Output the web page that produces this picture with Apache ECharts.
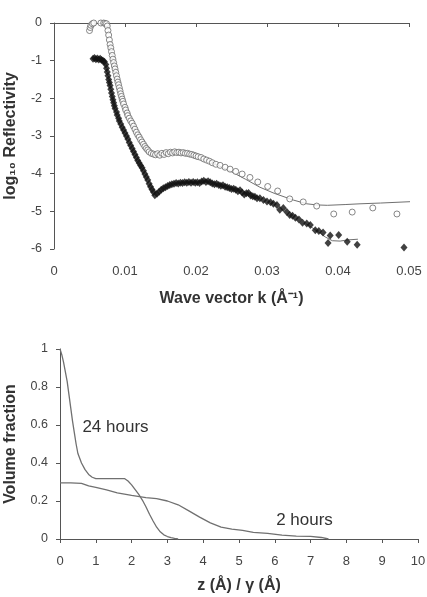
<!DOCTYPE html>
<html>
<head>
<meta charset="utf-8">
<script src="https://cdn.jsdelivr.net/npm/echarts@6/dist/echarts.min.js"></script>
<style>
  html, body { margin: 0; padding: 0; background: #fff; }
</style>
</head>
<body>
<div id="chart" style="width: 427px; height: 597px"></div>
<script>
// 反射率数据 (上图): [k, log10 R]
const circleData = [
  [0.0050,-0.20],[0.0051,-0.12],[0.0052,-0.06],[0.0054,-0.02],[0.0056,0.00],[0.0058,0.01],[0.0060,0.02],
  [0.0062,0.01],[0.0064,0.02],[0.0066,0.00],[0.0068,0.01],[0.0070,0.00],[0.0072,-0.01],[0.0074,-0.02],
  [0.0075,-0.08],[0.0076,-0.20],[0.0077,-0.32],[0.0078,-0.45],[0.0079,-0.57],[0.0080,-0.66],[0.0081,-0.76],
  [0.0082,-0.86],[0.0083,-0.96],[0.0084,-1.05],[0.0085,-1.14],[0.0086,-1.22],[0.0087,-1.31],[0.0088,-1.40],
  [0.0089,-1.49],[0.0090,-1.57],[0.0091,-1.64],[0.0092,-1.72],[0.0093,-1.80],[0.0094,-1.88],[0.0095,-1.95],
  [0.0096,-2.02],[0.0097,-2.08],[0.0098,-2.15],[0.0100,-2.24],[0.0101,-2.31],[0.0103,-2.39],[0.0104,-2.46],
  [0.0106,-2.53],[0.0108,-2.60],[0.0110,-2.66],[0.0112,-2.74],[0.0114,-2.82],[0.0116,-2.90],[0.0118,-2.97],
  [0.0120,-3.03],[0.0122,-3.10],[0.0124,-3.16],[0.0126,-3.22],[0.0128,-3.28],[0.0130,-3.33],[0.0132,-3.37],
  [0.0134,-3.42],[0.0137,-3.46],[0.0140,-3.48],[0.0143,-3.50],[0.0146,-3.47],[0.0149,-3.51],[0.0152,-3.46],
  [0.0155,-3.49],[0.0158,-3.44],[0.0161,-3.47],[0.0164,-3.43],[0.0167,-3.45],[0.0170,-3.42],[0.0173,-3.44],
  [0.0176,-3.43],[0.0179,-3.45],[0.0182,-3.44],[0.0185,-3.46],[0.0188,-3.46],[0.0191,-3.48],[0.0194,-3.49],
  [0.0197,-3.51],[0.0200,-3.53],[0.0203,-3.55],[0.0207,-3.57],[0.0211,-3.61],[0.0215,-3.64],[0.0219,-3.67],
  [0.0223,-3.71],[0.0228,-3.75],[0.0234,-3.78],[0.0241,-3.83],[0.0248,-3.88],[0.0256,-3.94],[0.0265,-4.01],
  [0.0276,-4.10],[0.0287,-4.22],[0.0301,-4.34],[0.0315,-4.46],[0.0332,-4.67],[0.0351,-4.75],[0.0370,-4.86],
  [0.0394,-5.07],[0.0420,-5.02],[0.0449,-4.91],[0.0483,-5.07]
];
const circleFit = [
  [0.0220,-3.68],[0.0250,-3.95],[0.0270,-4.15],[0.0290,-4.36],[0.0310,-4.52],[0.0337,-4.70],[0.0356,-4.80],
  [0.0370,-4.83],[0.0385,-4.84],[0.0410,-4.82],[0.0431,-4.80],[0.0460,-4.78],[0.0506,-4.74]
];
const diamondData = [
  [0.0055,-0.95],[0.0057,-0.93],[0.0059,-0.96],[0.0061,-0.94],[0.0063,-0.97],[0.0065,-0.95],[0.0067,-0.98],
  [0.0069,-1.00],[0.0071,-1.03],[0.0073,-1.10],[0.0074,-1.20],[0.0075,-1.30],[0.0076,-1.40],[0.0077,-1.50],
  [0.0078,-1.58],[0.0079,-1.66],[0.0080,-1.76],[0.0081,-1.86],[0.0082,-1.95],[0.0083,-2.04],[0.0084,-2.12],
  [0.0085,-2.20],[0.0086,-2.27],[0.0088,-2.36],[0.0089,-2.44],[0.0091,-2.53],[0.0092,-2.60],[0.0094,-2.68],
  [0.0096,-2.77],[0.0098,-2.84],[0.0100,-2.92],[0.0102,-3.00],[0.0104,-3.08],[0.0106,-3.17],[0.0108,-3.25],
  [0.0110,-3.33],[0.0112,-3.41],[0.0114,-3.49],[0.0116,-3.57],[0.0118,-3.65],[0.0120,-3.72],[0.0122,-3.78],
  [0.0124,-3.84],[0.0126,-3.92],[0.0128,-4.01],[0.0130,-4.09],[0.0132,-4.17],[0.0134,-4.27],[0.0136,-4.35],
  [0.0138,-4.42],[0.0140,-4.49],[0.0142,-4.57],[0.0145,-4.53],[0.0148,-4.48],[0.0151,-4.43],[0.0154,-4.39],
  [0.0157,-4.36],[0.0160,-4.33],[0.0163,-4.30],[0.0166,-4.28],[0.0169,-4.27],[0.0172,-4.25],[0.0175,-4.26],
  [0.0178,-4.24],[0.0181,-4.25],[0.0184,-4.23],[0.0187,-4.24],[0.0190,-4.22],[0.0193,-4.24],[0.0196,-4.22],
  [0.0199,-4.24],[0.0202,-4.23],[0.0205,-4.25],[0.0208,-4.21],[0.0211,-4.19],[0.0214,-4.22],[0.0217,-4.20],
  [0.0220,-4.23],[0.0223,-4.26],[0.0226,-4.28],[0.0229,-4.27],[0.0232,-4.30],[0.0235,-4.32],[0.0238,-4.31],
  [0.0241,-4.35],[0.0244,-4.36],[0.0247,-4.38],[0.0250,-4.41],[0.0253,-4.40],[0.0256,-4.43],[0.0259,-4.47],
  [0.0262,-4.44],[0.0265,-4.50],[0.0268,-4.55],[0.0271,-4.52],[0.0274,-4.51],[0.0277,-4.58],[0.0280,-4.60],
  [0.0283,-4.61],[0.0286,-4.65],[0.0290,-4.65],[0.0295,-4.70],[0.0300,-4.74],[0.0305,-4.76],[0.0309,-4.80],
  [0.0314,-4.83],[0.0318,-4.96],[0.0323,-4.91],[0.0328,-5.02],[0.0332,-5.10],[0.0336,-5.12],[0.0340,-5.17],
  [0.0345,-5.22],[0.0350,-5.30],[0.0356,-5.32],[0.0361,-5.36],[0.0368,-5.50],[0.0373,-5.52],[0.0379,-5.56],
  [0.0389,-5.64],[0.0386,-5.84],[0.0401,-5.63],[0.0413,-5.81],[0.0427,-5.89],[0.0493,-5.96]
];
const diamondFit = [
  [0.0355,-5.33],[0.0365,-5.45],[0.0375,-5.58],[0.0382,-5.68],[0.0392,-5.78],[0.0403,-5.79],
  [0.0413,-5.76],[0.0428,-5.74]
];
// 体积分数数据 (下图): [z, volume fraction]
const profile24h = [
  [0,1.0],[0.05,0.97],[0.1,0.93],[0.15,0.88],[0.2,0.83],[0.25,0.76],[0.3,0.69],[0.35,0.62],[0.4,0.56],
  [0.45,0.50],[0.5,0.45],[0.6,0.40],[0.7,0.365],[0.8,0.34],[0.9,0.325],[1.0,0.318],[1.8,0.318],[1.9,0.305],
  [2.0,0.285],[2.1,0.26],[2.2,0.235],[2.3,0.205],[2.4,0.17],[2.5,0.13],[2.6,0.095],[2.7,0.062],[2.8,0.038],
  [2.9,0.022],[3.0,0.013],[3.1,0.007],[3.2,0.003],[3.3,0]
];
const profile2h = [
  [0,0.295],[0.3,0.295],[0.6,0.293],[0.8,0.28],[1.0,0.272],[1.3,0.258],[1.6,0.243],[2.0,0.23],[2.4,0.218],
  [2.7,0.213],[3.0,0.2],[3.3,0.18],[3.6,0.148],[3.9,0.115],[4.2,0.085],[4.5,0.063],[4.8,0.052],[5.1,0.045],
  [5.4,0.035],[5.8,0.03],[6.2,0.02],[6.6,0.015],[7.0,0.014],[7.3,0.008],[7.5,0]
];
// 刻度标签
const kTickLabels = ['0', '0.01', '0.02', '0.03', '0.04', '0.05'];
const reflTickLabels = ['-6', '-5', '-4', '-3', '-2', '-1', '0'];
const zTickLabels = ['0', '1', '2', '3', '4', '5', '6', '7', '8', '9', '10'];
const fracTickLabels = ['0', '0.2', '0.4', '0.6', '0.8', '1'];
// 曲线注释 (数据坐标)
const profileNotes = [
  { name: '24 hours', coord: [1.55, 0.59] },
  { name: '2 hours', coord: [6.83, 0.10] }
];

const FONT = 'Liberation Sans, Arial, sans-serif';
const axisColor = '#555';
const textColor = '#444';
const curveColor = '#707070';

function axisBase(horizontal) {
  return {
    axisLine: { show: true, lineStyle: { color: axisColor, width: 1 } },
    axisTick: { show: true, inside: false, length: 4, lineStyle: { color: axisColor } },
    splitLine: { show: false },
    axisLabel: { color: textColor, fontSize: horizontal ? 13 : 12.5, fontFamily: FONT, margin: horizontal ? 16 : 12 },
    nameTextStyle: { color: '#333', fontSize: 16, fontWeight: 'bold', fontFamily: FONT }
  };
}

function noteSeries(note) {
  // 注释文字，锚定在数据坐标上
  return {
    symbol: 'circle', symbolSize: 0,
    label: { show: true, position: 'inside', color: '#333', fontSize: 17, fontFamily: FONT, formatter: p => p.name },
    data: [note]
  };
}

function initChart() {
  const chartInstance = echarts.init(document.getElementById('chart'));
  const option = {
    animation: false,
    backgroundColor: '#fff',
    // 固定绘图区位置，不让轴名称挤压网格
    grid: [
      { left: 54, right: 18, top: 23, height: 226, containLabel: false, outerBoundsMode: 'none' },
      { left: 60, right: 9, top: 349, height: 190, containLabel: false, outerBoundsMode: 'none' }
    ],
    xAxis: [
      Object.assign(axisBase(true), {
        gridIndex: 0, type: 'value', min: 0, max: 0.05, interval: 0.01,
        name: 'Wave vector k (Å⁻¹)', nameLocation: 'middle', nameGap: 42
      }),
      Object.assign(axisBase(true), {
        gridIndex: 1, type: 'value', min: 0, max: 10, interval: 1,
        name: 'z (Å) / γ (Å)', nameLocation: 'middle', nameGap: 39
      })
    ],
    yAxis: [
      Object.assign(axisBase(false), {
        gridIndex: 0, type: 'value', min: -6, max: 0, interval: 1,
        name: 'log₁₀ Reflectivity', nameLocation: 'middle', nameGap: 35
      }),
      Object.assign(axisBase(false), {
        gridIndex: 1, type: 'value', min: 0, max: 1, interval: 0.2,
        name: 'Volume fraction', nameLocation: 'middle', nameGap: 41
      })
    ],
    series: [
      {
        name: 'fit (open)', type: 'line', xAxisIndex: 0, yAxisIndex: 0,
        data: circleFit, symbol: 'none', clip: false, z: 1,
        lineStyle: { color: curveColor, width: 1 }
      },
      {
        name: 'fit (filled)', type: 'line', xAxisIndex: 0, yAxisIndex: 0,
        data: diamondFit, symbol: 'none', clip: false, z: 1,
        lineStyle: { color: curveColor, width: 1 }
      },
      {
        name: 'open', type: 'scatter', xAxisIndex: 0, yAxisIndex: 0,
        data: circleData, symbol: 'circle', symbolSize: 6, z: 3,
        itemStyle: { color: '#fff', borderColor: '#6a6a6a', borderWidth: 1 }
      },
      {
        name: 'filled', type: 'scatter', xAxisIndex: 0, yAxisIndex: 0,
        data: diamondData, symbol: 'diamond', symbolSize: [7, 8], z: 4,
        itemStyle: { color: '#111' }
      },
      {
        name: '24 hours', type: 'line', xAxisIndex: 1, yAxisIndex: 1,
        data: profile24h, symbol: 'none',
        lineStyle: { color: curveColor, width: 1.3 },
        markPoint: noteSeries(profileNotes[0])
      },
      {
        name: '2 hours', type: 'line', xAxisIndex: 1, yAxisIndex: 1,
        data: profile2h, symbol: 'none',
        lineStyle: { color: curveColor, width: 1.3 },
        markPoint: noteSeries(profileNotes[1])
      }
    ]
  };
  // 刻度标签取自上面的数组
  option.xAxis[0].axisLabel.formatter = v => kTickLabels[Math.round(v / 0.01)];
  option.xAxis[1].axisLabel.formatter = v => zTickLabels[Math.round(v)];
  option.yAxis[0].axisLabel.formatter = v => reflTickLabels[Math.round(v + 6)];
  option.yAxis[1].axisLabel.formatter = v => fracTickLabels[Math.round(v / 0.2)];
  chartInstance.setOption(option);
}

initChart();
</script>
</body>
</html>
